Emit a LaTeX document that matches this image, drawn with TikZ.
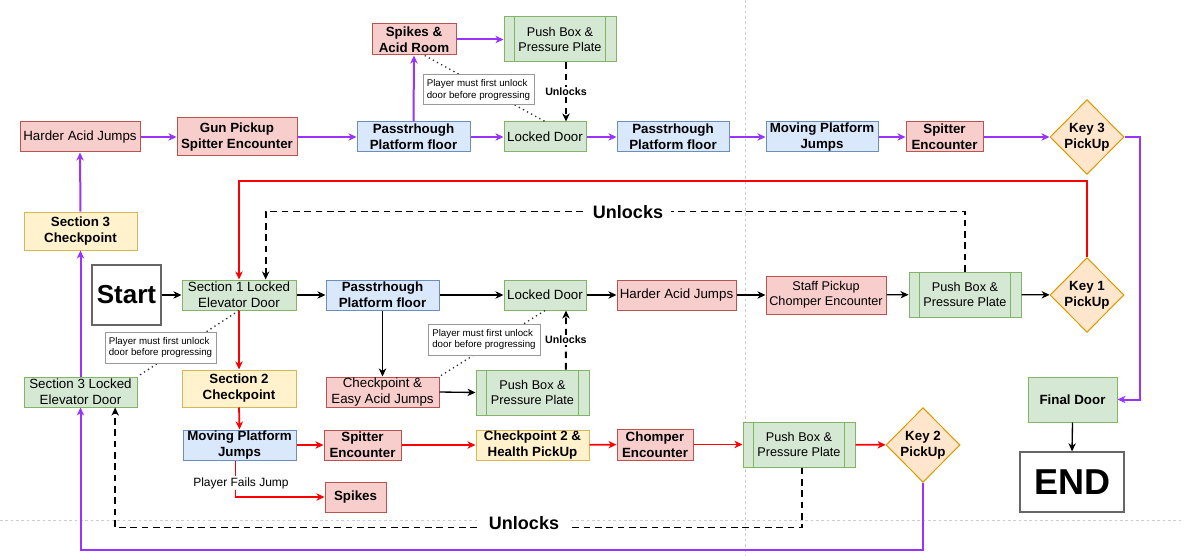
\documentclass[tikz,border=0pt]{standalone}
\usepackage{fontspec}
\setmainfont{Liberation Sans}
\usetikzlibrary{arrows.meta,shapes.geometric}
\definecolor{rfill}{HTML}{F8CECC}\definecolor{rdraw}{HTML}{B85450}
\definecolor{gfill}{HTML}{D5E8D4}\definecolor{gdraw}{HTML}{82B366}
\definecolor{bfill}{HTML}{DAE8FC}\definecolor{bdraw}{HTML}{6C8EBF}
\definecolor{yfill}{HTML}{FFF2CC}\definecolor{ydraw}{HTML}{D6B656}
\definecolor{ofill}{HTML}{FFE6CC}\definecolor{odraw}{HTML}{D79B00}
\definecolor{purp}{HTML}{9933FF}
\newcommand{\mkbox}[7]{\node[#6, minimum width={(#4-#2)*0.75pt}, minimum height={(#5-#3)*0.75pt}] (#1) at ({(#2+#4)/2},{(#3+#5)/2}) {#7};}
\newcommand{\proclines}[1]{\draw[gdraw, line width=0.75pt] ([xshift=8.25pt]#1.north west) -- ([xshift=8.25pt]#1.south west) ([xshift=-8.25pt]#1.north east) -- ([xshift=-8.25pt]#1.south east);}
\begin{document}
\begin{tikzpicture}[x=0.75pt,y=-0.75pt,
 box/.style={draw, line width=0.75pt, inner sep=0pt, align=center, font=\fontsize{10}{12}\selectfont},
 bld/.style={font=\fontsize{10}{12}\selectfont\bfseries},
 sml/.style={font=\fontsize{9.5}{11.5}\selectfont},
 rbox/.style={box, fill=rfill, draw=rdraw},
 gbox/.style={box, fill=gfill, draw=gdraw},
 bbox/.style={box, fill=bfill, draw=bdraw},
 ybox/.style={box, fill=yfill, draw=ydraw},
 procbox/.style={gbox, sml},
 keyd/.style={diamond, aspect=1, draw=odraw, fill=ofill, line width=0.75pt, inner sep=0pt, align=center, font=\fontsize{10}{12}\selectfont\bfseries, minimum width=55.5pt, minimum height=56pt},
 termbox/.style={box, fill=white, draw=black!60, line width=1pt},
 notebox/.style={draw=black!40, fill=white, line width=0.75pt, inner xsep=2pt, inner ysep=1pt, align=left, font=\fontsize{7.3}{8.4}\selectfont},
 arr/.style={-{Stealth[length=6pt,width=5.5pt,inset=1.8pt]}},
 purl/.style={arr, draw=purp, line width=1.5pt},
 redl/.style={arr, draw=red, line width=1.3pt},
 blkl/.style={arr, draw=black, line width=1pt},
 dshl/.style={arr, draw=black, line width=1.4pt, dash pattern=on 5pt off 3.5pt},
 dotl/.style={draw=black!80, line width=1pt, dash pattern=on 1pt off 2.5pt},
 labl/.style={fill=white, inner sep=1pt},
]
\useasboundingbox (0,0) rectangle (1184,556);
\fill[white] (0,0) rectangle (1184,556);
% page break guides
\draw[black!20, line width=0.5pt, dash pattern=on 2pt off 2pt] (745,0) -- (745,556);
\draw[black!20, line width=0.5pt, dash pattern=on 2pt off 2pt] (0,520) -- (1184,520);

% top row
\mkbox{haj1}{20}{122}{140}{152}{rbox}{Harder Acid Jumps}
\mkbox{gun}{177}{118}{297}{156}{rbox,bld}{Gun Pickup\\Spitter Encounter}
\mkbox{pt1}{357}{122}{470}{152}{bbox,bld}{Passtrhough\\Platform floor}
\mkbox{spk1}{372}{24}{456}{55}{rbox,bld}{Spikes \&\\Acid Room}
\mkbox{pb1}{504}{17}{616}{62}{procbox}{Push Box \&\\Pressure Plate}
\mkbox{ld1}{504}{122}{586}{152}{gbox}{Locked Door}
\mkbox{pt2}{617}{122}{729}{152}{bbox,bld}{Passtrhough\\Platform floor}
\mkbox{mpj1}{766}{122}{878}{152}{bbox,bld}{Moving Platform\\Jumps}
\mkbox{spit1}{906}{122}{983}{152}{rbox,bld}{Spitter\\Encounter}
\node[keyd] (key3) at (1087,137) {Key 3\\PickUp};

% middle row
\mkbox{s3c}{24}{212}{137}{250}{ybox,bld}{Section 3\\Checkpoint}
\mkbox{start}{92}{265}{161}{325}{termbox,font=\fontsize{19.5}{22}\selectfont\bfseries}{Start}
\mkbox{s1}{182}{280}{296}{310}{gbox}{Section 1 Locked\\Elevator Door}
\mkbox{pt3}{326}{280}{439}{310}{bbox,bld}{Passtrhough\\Platform floor}
\mkbox{ld2}{504}{280}{586}{310}{gbox}{Locked Door}
\mkbox{haj2}{617}{280}{736}{310}{rbox}{Harder Acid Jumps}
\mkbox{staff}{766}{276}{886}{314}{rbox,sml}{Staff Pickup\\Chomper Encounter}
\mkbox{pb2}{909}{272}{1021}{317}{procbox}{Push Box \&\\Pressure Plate}
\node[keyd] (key1) at (1087,295) {Key 1\\PickUp};

% lower rows
\mkbox{s3l}{24}{377}{137}{407}{gbox}{Section 3 Locked\\Elevator Door}
\mkbox{s2c}{182}{370}{296}{407}{ybox,bld}{Section 2\\Checkpoint}
\mkbox{cea}{326}{377}{439}{407}{rbox}{Checkpoint \&\\Easy Acid Jumps}
\mkbox{pb3}{476}{370}{589}{415}{procbox}{Push Box \&\\Pressure Plate}
\mkbox{mpj2}{183}{430}{296}{460}{bbox,bld}{Moving Platform\\Jumps}
\mkbox{spit2}{324}{430}{401}{460}{rbox,bld}{Spitter\\Encounter}
\mkbox{cp2}{476}{430}{589}{460}{ybox,bld}{Checkpoint 2 \&\\Health PickUp}
\mkbox{chomp}{617}{429}{693}{460}{rbox,bld}{Chomper\\Encounter}
\mkbox{pb4}{743}{422}{855}{467}{procbox}{Push Box \&\\Pressure Plate}
\node[keyd] (key2) at (923,445) {Key 2\\PickUp};
\mkbox{spikes}{325}{482}{386}{512}{rbox,bld}{Spikes}
\mkbox{fdoor}{1028}{377}{1117}{422}{gbox,bld}{Final Door}
\mkbox{endn}{1020}{452}{1124}{512}{termbox,font=\fontsize{27}{30}\selectfont\bfseries}{END}

\proclines{pb1}\proclines{pb2}\proclines{pb3}\proclines{pb4}

% dotted notes
\draw[dotl] ([xshift=8pt]spk1.south) -- (ld1.north);
\draw[dotl] (ld2.south) -- (cea.north east);
\draw[dotl] (s1.south) -- (s3l.north east);
\mkbox{note1}{423}{75}{534}{105}{notebox}{Player must first unlock\\door before progressing}
\mkbox{note2}{105}{332}{216}{363}{notebox}{Player must first unlock\\door before progressing}
\mkbox{note3}{428}{324}{540}{355}{notebox}{Player must first unlock\\door before progressing}

% purple path
\draw[purl] (haj1) -- (gun);
\draw[purl] (gun) -- (pt1);
\draw[purl] (pt1) -- (ld1);
\draw[purl] (ld1) -- (pt2);
\draw[purl] (pt2) -- (mpj1);
\draw[purl] (mpj1) -- (spit1);
\draw[purl] (spit1) -- (key3);
\draw[purl] (pt1.north) -- (spk1.south);
\draw[purl] (spk1) -- (pb1);
\draw[purl] (key3.east) -- ++(15.5,0) |- (fdoor.east);
\draw[purl] (key2.south) -- ++(0,67.5) -| (s3l.south);
\draw[purl] (s3l.north) -- (s3c.south);
\draw[purl] (s3c.north) -- (haj1.south);

% black path
\draw[blkl, line width=1.5pt] (start) -- (s1);
\draw[blkl] (s1) -- (pt3);
\draw[blkl] (pt3) -- (ld2);
\draw[blkl] (ld2) -- (haj2);
\draw[blkl] (haj2) -- (staff);
\draw[blkl] (staff) -- (pb2);
\draw[blkl] (pb2) -- (key1);
\draw[blkl] (pt3.south) -- (cea.north);
\draw[blkl] (cea.east) -- (pb3.west);
\draw[blkl] (fdoor.south) -- (endn.north);

% red path
\draw[redl] (key1.north) -- ++(0,-76) -| (s1.north);
\draw[redl] (s1.south) -- (s2c.north);
\draw[redl] (s2c.south) -- (mpj2.north);
\draw[redl] (mpj2) -- (spit2);
\draw[redl] (spit2) -- (cp2);
\draw[redl] (cp2) -- (chomp);
\draw[redl] (chomp) -- (pb4);
\draw[redl] (pb4) -- (key2);
\draw[redl] ([xshift=-3pt]mpj2.south) |- (spikes.west);
\node[labl, font=\fontsize{9}{10}\selectfont] (fails) at (241,483) {Player Fails Jump};

% dashed unlocks
\draw[dshl] ([xshift=4.5pt]pb1.south) -- node[labl, font=\fontsize{8}{9}\selectfont\bfseries] (u1) {Unlocks} ([xshift=15.75pt]ld1.north);
\draw[dshl] ([xshift=25pt]pb3.north) -- node[labl, font=\fontsize{8}{9}\selectfont\bfseries] (u2) {Unlocks} ([xshift=15.75pt]ld2.south);
\draw[dshl] (pb2.north) -- ++(0,-60) -| ([xshift=20pt]s1.north);
\node[fill=white, inner xsep=6pt, font=\fontsize{13.5}{15}\selectfont\bfseries] (u3) at (628,212) {Unlocks};
\draw[dshl] ([xshift=2.5pt]pb4.south) -- ++(0,60) -| ([xshift=26pt]s3l.south);
\node[fill=white, inner xsep=8pt, font=\fontsize{13.5}{15}\selectfont\bfseries] (u4) at (524,523) {Unlocks};
\end{tikzpicture}
\end{document}
